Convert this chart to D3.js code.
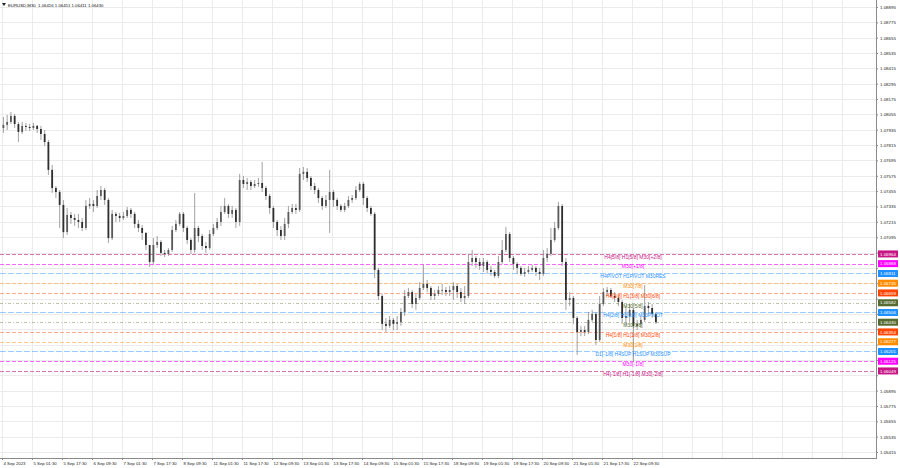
<!DOCTYPE html>
<html><head><meta charset="utf-8"><title>EURUSD,M30</title>
<script src="https://cdn.jsdelivr.net/npm/d3@7/dist/d3.min.js"></script>
<style>html,body{margin:0;padding:0;background:#fff;overflow:hidden;}svg{display:block;font-family:"Liberation Sans",Arial,sans-serif;}</style>
</head><body>
<svg id="chart" width="900" height="468"></svg>
<script>
const symbolTitle = "EURUSD,M30  1.06416 1.06451 1.06411 1.06430";

const timeLabels = ["4 Sep 2023","5 Sep 01:30","5 Sep 17:30","6 Sep 09:30","7 Sep 01:30","7 Sep 17:30","8 Sep 09:30","11 Sep 01:30","11 Sep 17:30","12 Sep 09:30","13 Sep 01:30","13 Sep 17:30","14 Sep 09:30","15 Sep 01:30","15 Sep 17:30","18 Sep 09:30","19 Sep 01:30","19 Sep 17:30","20 Sep 09:30","21 Sep 01:30","21 Sep 17:30","22 Sep 09:30"];
// M30 bar index of each time label (first visible bar = 0)
const timeLabelBars = [0,32,64,96,128,160,192,224,256,288,320,352,384,416,448,480,512,544,576,608,640,672];

const priceTicks = [1.08895,1.08775,1.08655,1.08535,1.08415,1.08295,1.08175,1.08055,1.07935,1.07815,1.07695,1.07575,1.07455,1.07335,1.07215,1.07095,1.06975,1.06855,1.06735,1.06615,1.06495,1.06375,1.06255,1.06135,1.06015,1.05895,1.05775,1.05655,1.05535,1.05415];

// candles (each covers 4 M30 bars)
const opens = [1.07949,1.07973,1.07996,1.08043,1.07980,1.07918,1.07965,1.07957,1.07949,1.07965,
1.07941,1.07902,1.07839,1.07621,1.07479,1.07448,1.07347,1.07135,1.07269,1.07245,
1.07230,1.07214,1.07167,1.07339,1.07355,1.07339,1.07417,1.07464,1.07386,1.07088,
1.07277,1.07261,1.07245,1.07261,1.07308,1.07277,1.07199,1.07167,1.07128,1.07034,
1.06901,1.07034,1.07057,1.06972,1.06964,1.06995,1.07151,1.07199,1.07277,1.07167,
1.07073,1.06995,1.07167,1.07104,1.07026,1.07010,1.07120,1.07167,1.07214,1.07292,
1.07339,1.07277,1.07308,1.07214,1.07542,1.07511,1.07526,1.07495,1.07511,1.07519,
1.07479,1.07417,1.07323,1.07214,1.07151,1.07104,1.07199,1.07292,1.07323,1.07308,
1.07590,1.07606,1.07558,1.07495,1.07464,1.07401,1.07339,1.07386,1.07448,1.07386,
1.07339,1.07308,1.07339,1.07386,1.07401,1.07464,1.07511,1.07401,1.07323,1.07277,
1.06839,1.06635,1.06417,1.06401,1.06448,1.06417,1.06432,1.06510,1.06635,1.06666,
1.06573,1.06619,1.06698,1.06729,1.06698,1.06635,1.06651,1.06682,1.06682,1.06666,
1.06682,1.06713,1.06666,1.06619,1.06635,1.06901,1.06932,1.06901,1.06870,1.06901,
1.06839,1.06823,1.06792,1.06901,1.06995,1.07120,1.06932,1.06886,1.06855,1.06808,
1.06823,1.06839,1.06855,1.06823,1.06808,1.06932,1.06964,1.07073,1.07167,1.07339,
1.06901,1.06604,1.06619,1.06463,1.06353,1.06369,1.06353,1.06448,1.06495,1.06291,
1.06573,1.06666,1.06682,1.06635,1.06619,1.06588,1.06463,1.06479,1.06526,1.06401,
1.06417,1.06448,1.06557,1.06541,1.06495];
const highs = [1.08035,1.08051,1.08074,1.08059,1.07996,1.07996,1.07988,1.07980,1.07988,1.07973,
1.07965,1.07933,1.07855,1.07660,1.07495,1.07464,1.07386,1.07323,1.07292,1.07277,
1.07277,1.07245,1.07386,1.07401,1.07386,1.07464,1.07495,1.07479,1.07401,1.07308,
1.07292,1.07285,1.07292,1.07331,1.07323,1.07292,1.07230,1.07191,1.07135,1.07034,
1.07088,1.07104,1.07073,1.06995,1.07010,1.07183,1.07230,1.07292,1.07292,1.07183,
1.07088,1.07441,1.07183,1.07120,1.07057,1.07151,1.07199,1.07245,1.07339,1.07401,
1.07355,1.07339,1.07323,1.07590,1.07574,1.07558,1.07542,1.07542,1.07558,1.07683,
1.07495,1.07433,1.07339,1.07230,1.07183,1.07245,1.07339,1.07355,1.07355,1.07636,
1.07644,1.07636,1.07574,1.07519,1.07479,1.07417,1.07425,1.07621,1.07464,1.07401,
1.07355,1.07363,1.07417,1.07425,1.07495,1.07526,1.07526,1.07417,1.07339,1.07292,
1.06855,1.06651,1.06463,1.06479,1.06463,1.06479,1.06541,1.06682,1.06698,1.06682,
1.06651,1.06744,1.06878,1.06760,1.06713,1.06682,1.06713,1.06729,1.06705,1.06713,
1.06744,1.06729,1.06698,1.06713,1.06964,1.06995,1.06948,1.06932,1.06932,1.06917,
1.06870,1.06839,1.06948,1.07073,1.07175,1.07135,1.06948,1.06901,1.06870,1.06855,
1.06870,1.06878,1.06870,1.06855,1.06995,1.07010,1.07167,1.07214,1.07371,1.07355,
1.06932,1.06666,1.06635,1.06479,1.06401,1.06401,1.06510,1.06526,1.06510,1.06635,
1.06698,1.06705,1.06698,1.06666,1.06635,1.06604,1.06557,1.06573,1.06541,1.06448,
1.06479,1.06721,1.06588,1.06573,1.06510];
const lows = [1.07910,1.07933,1.07980,1.07949,1.07839,1.07902,1.07926,1.07926,1.07933,1.07910,
1.07855,1.07808,1.07582,1.07441,1.07401,1.07167,1.07088,1.07112,1.07199,1.07183,
1.07167,1.07143,1.07151,1.07316,1.07292,1.07323,1.07386,1.07347,1.07050,1.07073,
1.07214,1.07214,1.07230,1.07245,1.07245,1.07167,1.07135,1.07073,1.06995,1.06862,
1.06886,1.07010,1.06948,1.06940,1.06948,1.06979,1.07135,1.07183,1.07135,1.07042,
1.06964,1.06972,1.07057,1.06995,1.06972,1.06995,1.07104,1.07151,1.07183,1.07277,
1.07245,1.07245,1.07167,1.07183,1.07479,1.07464,1.07464,1.07479,1.07487,1.07448,
1.07386,1.07277,1.07167,1.07104,1.07073,1.07073,1.07167,1.07277,1.07277,1.07292,
1.07542,1.07526,1.07464,1.07433,1.07363,1.07308,1.07323,1.07128,1.07331,1.07308,
1.07292,1.07292,1.07323,1.07363,1.07386,1.07448,1.07347,1.07292,1.07261,1.06775,
1.06604,1.06369,1.06353,1.06385,1.06369,1.06369,1.06401,1.06479,1.06619,1.06541,
1.06526,1.06604,1.06682,1.06666,1.06604,1.06604,1.06635,1.06643,1.06635,1.06635,
1.06604,1.06619,1.06588,1.06573,1.06619,1.06870,1.06855,1.06839,1.06823,1.06808,
1.06792,1.06776,1.06776,1.06886,1.06979,1.06901,1.06839,1.06808,1.06792,1.06784,
1.06808,1.06823,1.06792,1.06760,1.06792,1.06901,1.06948,1.07057,1.07151,1.06870,
1.06526,1.06557,1.06417,1.06174,1.06322,1.06322,1.06338,1.06432,1.06252,1.06275,
1.06557,1.06635,1.06619,1.06588,1.06557,1.06417,1.06409,1.06432,1.06119,1.06369,
1.06385,1.06432,1.06495,1.06463,1.06417];
const closes = [1.07973,1.07996,1.08043,1.07980,1.07918,1.07965,1.07957,1.07949,1.07965,1.07941,
1.07902,1.07839,1.07621,1.07479,1.07448,1.07347,1.07135,1.07269,1.07245,1.07230,
1.07214,1.07167,1.07339,1.07355,1.07339,1.07417,1.07464,1.07386,1.07088,1.07277,
1.07261,1.07245,1.07261,1.07308,1.07277,1.07199,1.07167,1.07128,1.07034,1.06901,
1.07034,1.07057,1.06972,1.06964,1.06995,1.07151,1.07199,1.07277,1.07167,1.07073,
1.06995,1.07167,1.07104,1.07026,1.07010,1.07120,1.07167,1.07214,1.07292,1.07339,
1.07277,1.07308,1.07214,1.07542,1.07511,1.07526,1.07495,1.07511,1.07519,1.07479,
1.07417,1.07323,1.07214,1.07151,1.07104,1.07199,1.07292,1.07323,1.07308,1.07590,
1.07606,1.07558,1.07495,1.07464,1.07401,1.07339,1.07386,1.07448,1.07386,1.07339,
1.07308,1.07339,1.07386,1.07401,1.07464,1.07511,1.07401,1.07323,1.07277,1.06839,
1.06635,1.06417,1.06401,1.06448,1.06417,1.06432,1.06510,1.06635,1.06666,1.06573,
1.06619,1.06698,1.06729,1.06698,1.06635,1.06651,1.06682,1.06682,1.06666,1.06682,
1.06713,1.06666,1.06619,1.06635,1.06901,1.06932,1.06901,1.06870,1.06901,1.06839,
1.06823,1.06792,1.06901,1.06995,1.07120,1.06932,1.06886,1.06855,1.06808,1.06823,
1.06839,1.06855,1.06823,1.06808,1.06932,1.06964,1.07073,1.07167,1.07339,1.06901,
1.06604,1.06619,1.06463,1.06353,1.06369,1.06353,1.06448,1.06495,1.06291,1.06573,
1.06666,1.06682,1.06635,1.06619,1.06588,1.06463,1.06479,1.06526,1.06401,1.06417,
1.06448,1.06557,1.06541,1.06495,1.06430];

// Murrey math levels
const levelPrices = [1.06964,1.06888,1.06811,1.06735,1.06659,1.06582,1.06506,1.06430,1.06354,1.06277,1.06201,1.06125,1.06049];
const levelLabels = ["H4[5/8] H1[5/8] M30[+2/8]","M30[+1/8]","H4PIVOT H1PIVOT M30RES","M30[7/8]","H4[3/8] H1[3/8] M30[6/8]","M30[5/8]","H4[2/8] H1[2/8] M30PIVOT","M30[3/8]","H4[1/8] H1[1/8] M30[2/8]","M30[1/8]","D1[-1/8] H4SUP H1SUP M30SUP","M30[-1/8]","H4[-1/8] H1[-1/8] M30[-2/8]"];
const levelColors = ["#C71585","#FF00FF","#1E90FF","#FF8C00","#FF4500","#556B2F","#1E90FF","#556B2F","#FF4500","#FF8C00","#1E90FF","#FF00FF","#C71585"];

const PR = 877, PB = 458;
const svg = d3.select("#chart");
svg.append("rect").attr("width",900).attr("height",468).attr("fill","#fff");

const x = d3.scaleLinear().domain([0, 672]).range([2, 632]);
const y = d3.scaleLinear().domain([1.05415, 1.08895]).range([452, 7]);
const snap = v => Math.round(v) + 0.5;

// grid
const grid = svg.append("g");
grid.selectAll("line.h").data(priceTicks).join("line").attr("class","h")
  .attr("x1",0).attr("x2",PR).attr("y1",d=>snap(y(d))).attr("y2",d=>snap(y(d)))
  .attr("stroke","#ebebeb").attr("stroke-width",1);
const gridBars = timeLabelBars.concat([704,736,768,800,832,864,896]);
grid.selectAll("line.v").data(gridBars).join("line").attr("class","v")
  .attr("x1",d=>snap(x(d))).attr("x2",d=>snap(x(d))).attr("y1",0).attr("y2",PB)
  .attr("stroke","#ebebeb").attr("stroke-width",1);

// level lines
const lv = svg.append("g");
lv.selectAll("line").data(levelPrices).join("line")
  .attr("x1",0).attr("x2",PR).attr("y1",d=>snap(y(d))).attr("y2",d=>snap(y(d)))
  .attr("stroke",(d,i)=>levelColors[i])
  .attr("stroke-opacity",(d,i)=> (levelColors[i]==="#C71585"||levelColors[i]==="#FF00FF") ? 0.6 : (levelColors[i]==="#556B2F" ? 0.4 : 0.45))
  .attr("stroke-dasharray",(d,i)=> levelColors[i]==="#556B2F" ? "3,2,1,2" : (levelColors[i]==="#1E90FF" ? "6,2" : "4,2"));

// candles
const idx = d3.range(closes.length);
const cx = j => x(4*j + 1.5);
const cg = svg.append("g");
cg.selectAll("line").data(idx).join("line")
  .attr("x1",j=>cx(j)).attr("x2",j=>cx(j))
  .attr("y1",j=>y(highs[j])).attr("y2",j=>y(lows[j]))
  .attr("stroke","#8a8a8a").attr("stroke-width",0.8);
cg.selectAll("rect").data(idx).join("rect")
  .attr("x",j=>cx(j)-0.9).attr("width",1.8)
  .attr("y",j=>y(Math.max(opens[j],closes[j])))
  .attr("height",j=>Math.max(0.8, Math.abs(y(opens[j])-y(closes[j]))))
  .attr("fill",j=> closes[j]>=opens[j] ? "#5a5a5a" : "#2e2e2e");

// level labels in chart
svg.append("g").selectAll("text").data(levelPrices).join("text")
  .attr("x",633).attr("y",d=>y(d)+4.8).attr("text-anchor","middle")
  .attr("font-size",5).attr("fill",(d,i)=>levelColors[i])
  .text((d,i)=>levelLabels[i]);

// axes frame
svg.append("line").attr("x1",snap(PR)-1).attr("x2",snap(PR)-1).attr("y1",0).attr("y2",PB).attr("stroke","#8a8a8a");
svg.append("line").attr("x1",0).attr("x2",PR).attr("y1",snap(PB)).attr("y2",snap(PB)).attr("stroke","#8a8a8a");

// right price axis (labels hidden under a level box are not drawn)
const hidden = p => levelPrices.some(l => Math.abs(y(l) - y(p)) < 5.5);
const ya = svg.append("g").attr("transform",`translate(${PR},0)`)
  .call(d3.axisRight(y).tickValues(priceTicks).tickFormat(d => hidden(d) ? "" : d3.format(".5f")(d)).tickSize(1).tickPadding(2));
ya.select(".domain").remove();
ya.selectAll("text").attr("font-size",4.4).attr("fill","#222").attr("font-family","Liberation Sans, Arial, sans-serif");
ya.selectAll(".tick line").attr("stroke","#8a8a8a");

// bottom time axis
const xa = svg.append("g").attr("transform",`translate(0,${PB})`)
  .call(d3.axisBottom(x).tickValues(timeLabelBars).tickFormat((d,i)=>timeLabels[i]).tickSize(2).tickPadding(2));
xa.select(".domain").remove();
xa.selectAll("text").attr("font-size",4.3).attr("fill","#222").attr("text-anchor","start").attr("dx",1)
  .attr("font-family","Liberation Sans, Arial, sans-serif");
xa.selectAll(".tick line").attr("stroke","#8a8a8a");

// price boxes on right axis
const pb = svg.append("g");
pb.selectAll("rect").data(levelPrices).join("rect")
  .attr("x",PR+1).attr("width",20).attr("y",d=>y(d)-3.5).attr("height",7)
  .attr("fill",(d,i)=>levelColors[i]);
pb.selectAll("text").data(levelPrices).join("text")
  .attr("x",PR+3).attr("y",d=>y(d)+1.6).attr("font-size",4.4).attr("fill","#fff")
  .text(d=>d3.format(".5f")(d));

// title
svg.append("path").attr("d","M2,3 L6,3 L4,6 Z").attr("fill","#222");
svg.append("text").attr("x",8).attr("y",6.5).attr("font-size",4.3).attr("fill","#111")
  .attr("xml:space","preserve").style("white-space","pre").text(symbolTitle);
</script>
</body></html>
